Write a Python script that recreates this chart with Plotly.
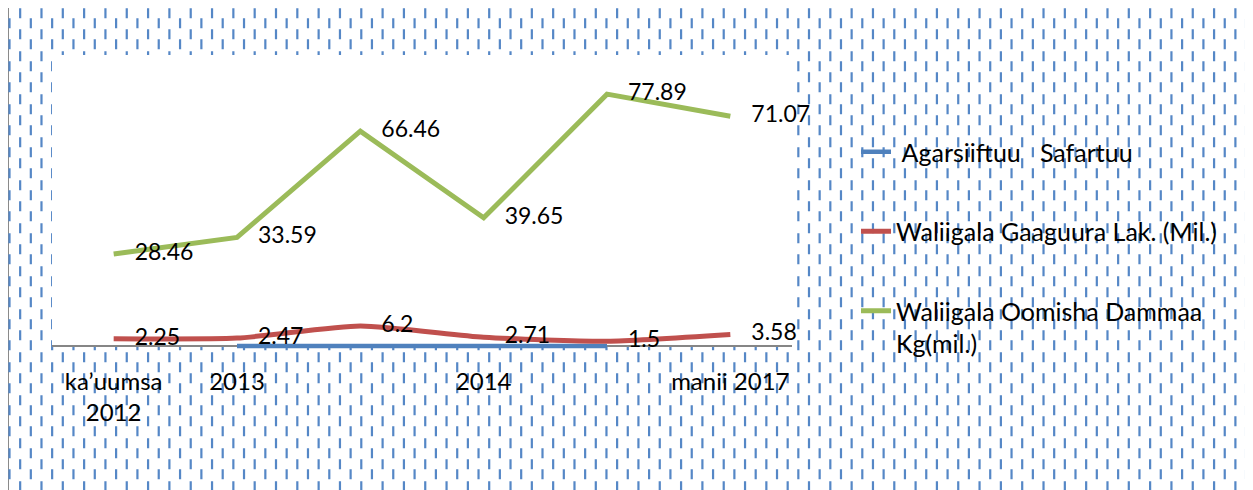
import plotly.graph_objects as go

# ---------------- data ----------------
categories = ["ka’uumsa<br>2012", "2013", "", "2014", "", "manii 2017"]
x_index = [0, 1, 2, 3, 4, 5]
agarsiiftuu_safartuu = [None, 0, 0, 0, 0, None]
gaaguura_lak = [2.25, 2.47, 6.2, 2.71, 1.5, 3.58]
oomisha_dammaa = [28.46, 33.59, 66.46, 39.65, 77.89, 71.07]
series_names = [
    "\u00a0Agarsiiftuu\u00a0\u00a0\u00a0Safartuu",
    "Waliigala Gaaguura Lak. (Mil.)",
    "Waliigala Oomisha Dammaa<br>Kg(mil.)",
]

# ---------------- layout geometry ----------------
# the page body has an 8px margin, so the figure is offset by 8px
OFF = 8
W, H = 1253 - OFF, 490 - OFF
L, T, R, B = 52 - OFF, 55 - OFF, 461, 131
PW = W - L - R
PH = H - T - B
FONT = "Lato"
BLUE, RED, GREEN = "#4f81bd", "#c0504d", "#9bbb59"


def px_x(px):
    return (px - L) / PW


def px_y(py):
    return (T + PH - py) / PH


fig = go.Figure()

fig.add_trace(go.Scatter(
    x=x_index, y=agarsiiftuu_safartuu, name=series_names[0], mode="lines",
    line=dict(color=BLUE, width=4.5), legendgroup="a",
))
fig.add_trace(go.Scatter(
    x=x_index, y=gaaguura_lak, name=series_names[1], mode="lines+markers+text",
    line=dict(color=RED, width=5, shape="spline", smoothing=0.6),
    marker=dict(size=32, color="rgba(0,0,0,0)"),
    text=[f"{v:g}" for v in gaaguura_lak], textposition="middle right",
    textfont=dict(family=FONT, size=23, color="black"), legendgroup="b",
    cliponaxis=False,
))
fig.add_trace(go.Scatter(
    x=x_index, y=oomisha_dammaa, name=series_names[2], mode="lines+markers+text",
    line=dict(color=GREEN, width=5),
    marker=dict(size=32, color="rgba(0,0,0,0)"),
    text=[f"{v:g}" for v in oomisha_dammaa], textposition="middle right",
    textfont=dict(family=FONT, size=23, color="black"), legendgroup="c",
    cliponaxis=False,
))

# ---------------- background pattern ----------------
shapes = []
shapes.append(dict(type="rect", xref="paper", yref="paper",
                   x0=px_x(0), x1=px_x(W + 10), y0=px_y(H + 10), y1=px_y(-1),
                   line=dict(color="#8a8a8a", width=2), fillcolor="white", layer="below"))
spacing = 10.66
x = 1.5
i = 0
while x < W + 2:
    start = 0.3 if i % 2 == 1 else 10.3
    shapes.append(dict(type="line", xref="paper", yref="paper",
                       x0=px_x(x), x1=px_x(x), y0=px_y(start), y1=px_y(H + 5),
                       line=dict(color="#5587c6", width=2.2, dash="10px,11px,10px,12px"),
                       layer="below"))
    x += spacing
    i += 1
shapes.append(dict(type="rect", xref="paper", yref="y", x0=0, x1=1, y0=0, y1=90,
                   line=dict(width=0), fillcolor="white", layer="below"))

fig.update_layout(
    width=W, height=H,
    margin=dict(l=L, r=R, t=T, b=B),
    paper_bgcolor="white", plot_bgcolor="rgba(0,0,0,0)",
    font=dict(family=FONT, color="black"),
    shapes=shapes,
    showlegend=True,
    legend=dict(
        x=px_x(856 - OFF), y=px_y(129 - OFF), xanchor="left", yanchor="top",
        font=dict(family=FONT, size=25, color="black"),
        bgcolor="rgba(0,0,0,0)", tracegroupgap=44, valign="top",
        traceorder="grouped",
    ),
    xaxis=dict(
        range=[-0.5, 5.5], tickvals=x_index, ticktext=categories,
        showgrid=False, zeroline=False, showline=False, ticks="",
        tickfont=dict(family=FONT, size=24, color="black"),
        ticklabelstandoff=6,
    ),
    yaxis=dict(
        range=[-4, 90], showgrid=False, showticklabels=False, showline=False,
        zeroline=True, zerolinecolor="#868686", zerolinewidth=1.5, ticks="",
    ),
)

fig.write_html("out.html")
